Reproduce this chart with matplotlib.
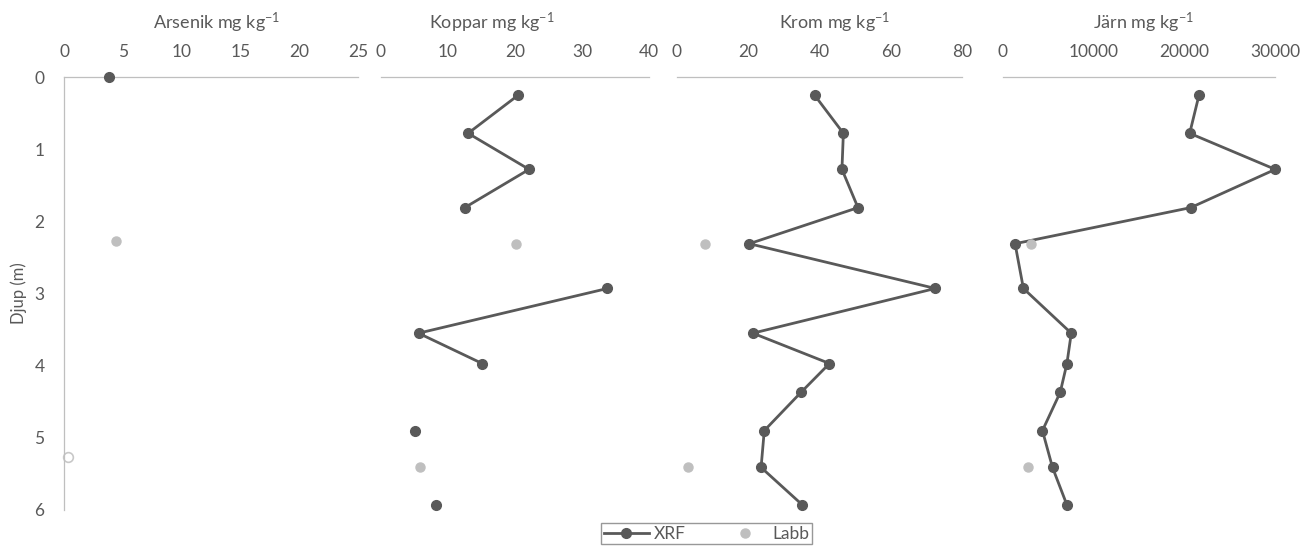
import numpy as np
import matplotlib
matplotlib.use('Agg')
import matplotlib.pyplot as plt

plt.rcParams['font.family'] = ['Lato', 'DejaVu Sans']
plt.rcParams['mathtext.default'] = 'regular'

# depths (m) shared by the XRF samples
depth = [0.25, 0.78, 1.28, 1.81, 2.31, 2.93, 3.55, 3.97, 4.37, 4.90, 5.41, 5.93]
labb_depth = [2.31, 5.41]

# Arsenik
arsenik_xrf_depth = [0.0]
arsenik_xrf = [3.85]
arsenik_labb_depth = [2.27]
arsenik_labb = [4.4]
arsenik_open_depth = [5.27]
arsenik_open = [0.3]

# Koppar (nan = no value)
koppar_xrf = [20.5, 13.0, 22.1, 12.5, np.nan, 33.8, 5.6, 15.1, np.nan, 5.1, np.nan, 8.2]
koppar_labb = [20.1, 5.8]

# Krom
krom_xrf = [38.6, 46.7, 46.3, 50.8, 20.3, 72.5, 21.3, 42.8, 34.8, 24.5, 23.6, 35.2]
krom_labb = [7.9, 3.0]

# Järn
jarn_xrf = [21620, 20590, 30030, 20700, 1330, 2250, 7530, 7050, 6310, 4350, 5460, 7050]
jarn_labb = [3100, 2800]

titles = ['Arsenik mg kg$^{-1}$', 'Koppar mg kg$^{-1}$', 'Krom mg kg$^{-1}$', 'Järn mg kg$^{-1}$']
title_x = [0.52, 0.414, 0.554, 0.516]
xlims = [25, 40, 80, 30000]
xticks = [np.arange(0, 26, 5), np.arange(0, 41, 10), np.arange(0, 81, 20), np.arange(0, 30001, 10000)]

dark = '#595959'
light = '#BFBFBF'
text_col = '#595959'

W, H = 1316, 546
fig = plt.figure(figsize=(W / 100, H / 100), dpi=100)

# axes boxes in pixels: left, right
boxes = [(64, 358), (381, 649), (677, 962), (1003, 1275)]
top_px, bot_px = 77, 510

axes = []
for (l, r) in boxes:
    ax = fig.add_axes([l / W, 1 - bot_px / H, (r - l) / W, (bot_px - top_px) / H])
    axes.append(ax)

for i, ax in enumerate(axes):
    ax.set_xlim(0, xlims[i])
    ax.set_ylim(6, 0)
    ax.set_xticks(xticks[i])
    ax.set_xticklabels([str(int(t)) for t in xticks[i]])
    ax.xaxis.tick_top()
    ax.tick_params(axis='x', length=0, pad=12, labelsize=12.5, labelcolor=text_col)
    for s in ['right', 'bottom']:
        ax.spines[s].set_visible(False)
    ax.spines['top'].set_color(light)
    ax.spines['top'].set_linewidth(0.9)
    if i == 0:
        ax.spines['left'].set_color(light)
        ax.spines['left'].set_linewidth(0.9)
        ax.set_yticks(range(0, 7))
        ax.tick_params(axis='y', length=0, pad=14, labelsize=12.5, labelcolor=text_col)
        ax.set_ylabel('Djup (m)', fontsize=12, color=text_col, labelpad=5)
    else:
        ax.spines['left'].set_visible(False)
        ax.set_yticks([])
    ax.text(title_x[i], 1 + 54 / 433, titles[i], transform=ax.transAxes,
            ha='center', va='center', fontsize=13, color=text_col)
    ax.patch.set_alpha(0)

# Arsenik
axes[0].plot(arsenik_xrf, arsenik_xrf_depth, '-o', color=dark, lw=2, ms=7, clip_on=False, zorder=5)
axes[0].plot(arsenik_labb, arsenik_labb_depth, 'o', color=light, ms=6.5, clip_on=False)
axes[0].plot(arsenik_open, arsenik_open_depth, 'o', mfc='white', mec='#C8C8C8', mew=1.2, ms=7, clip_on=False)

# Koppar
axes[1].plot(koppar_xrf, depth, '-o', color=dark, lw=2, ms=7, clip_on=False)
axes[1].plot(koppar_labb, labb_depth, 'o', color=light, ms=6.5, clip_on=False)

# Krom
axes[2].plot(krom_xrf, depth, '-o', color=dark, lw=2, ms=7, clip_on=False)
axes[2].plot(krom_labb, labb_depth, 'o', color=light, ms=6.5, clip_on=False)

# Järn
l1, = axes[3].plot(jarn_xrf, depth, '-o', color=dark, lw=2, ms=7, clip_on=False)
l2, = axes[3].plot(jarn_labb, labb_depth, 'o', color=light, ms=6.5, clip_on=False)

leg = fig.legend([l1, l2], ['XRF', 'Labb'], loc='upper left', bbox_to_anchor=(601 / W, 1 - 523 / H),
                 ncol=2, frameon=True, fancybox=False, fontsize=12.5, handlelength=2.6,
                 columnspacing=2.1, handletextpad=0.3, borderpad=0.15, borderaxespad=0,
                 labelcolor=text_col)
leg.get_frame().set_edgecolor('#7F7F7F')
leg.get_frame().set_linewidth(1.0)

fig.savefig('out.png', dpi=100)
